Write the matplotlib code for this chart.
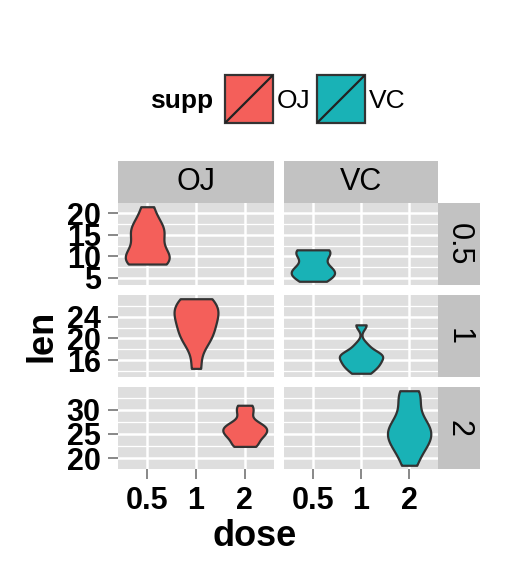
import numpy as np
import matplotlib
matplotlib.use("Agg")
import matplotlib.pyplot as plt
from matplotlib.patches import Rectangle
from matplotlib.lines import Line2D

plt.rcParams['font.family'] = ['Liberation Sans', 'DejaVu Sans']

# ToothGrowth values read for each supp / dose cell
supp_levels = ["OJ", "VC"]
dose_levels = ["0.5", "1", "2"]
len_oj_05 = [15.2, 21.5, 17.6, 9.7, 14.5, 10.0, 8.2, 9.4, 16.5, 9.7]
len_oj_1 = [19.7, 23.3, 23.6, 26.4, 20.0, 25.2, 25.8, 21.2, 14.5, 27.3]
len_oj_2 = [25.5, 26.4, 22.4, 24.5, 24.8, 30.9, 26.4, 27.3, 29.4, 23.0]
len_vc_05 = [4.2, 11.5, 7.3, 5.8, 6.4, 10.0, 11.2, 11.2, 5.2, 7.0]
len_vc_1 = [16.5, 16.5, 15.2, 17.3, 22.5, 17.3, 13.6, 14.5, 18.8, 15.5]
len_vc_2 = [23.6, 18.5, 33.9, 25.5, 26.4, 32.5, 26.7, 21.5, 23.3, 29.5]
y_ticks = [[5, 10, 15, 20], [16, 20, 24], [20, 25, 30]]
fill_colors = {"OJ": "#F45F5A", "VC": "#19B2B6"}

data = {
    ("OJ", "0.5"): len_oj_05, ("OJ", "1"): len_oj_1, ("OJ", "2"): len_oj_2,
    ("VC", "0.5"): len_vc_05, ("VC", "1"): len_vc_1, ("VC", "2"): len_vc_2,
}

W, H = 518, 576
fig = plt.figure(figsize=(W / 100, H / 100), dpi=100)


def box(x0, y0, x1, y1):
    # pixel box (top-left origin) -> figure fraction
    return [x0 / W, 1 - y1 / H, (x1 - x0) / W, (y1 - y0) / H]


col_x = [(118, 274), (284, 438)]
row_y = [(203, 285), (295, 377), (387, 469)]
panel_bg = "#DEDEDE"
strip_bg = "#C2C2C2"
tick_grey = "#7F7F7F"


def bw_nrd0(v):
    v = np.asarray(v)
    sd = v.std(ddof=1)
    iqr = np.subtract(*np.percentile(v, [75, 25]))
    lo = min(sd, iqr / 1.34)
    return 0.9 * lo * len(v) ** -0.2, sd


for r, dose in enumerate(dose_levels):
    # shared y range per row (free y scales)
    row_vals = np.concatenate([data[(s, dose)] for s in supp_levels])
    ymin, ymax = row_vals.min(), row_vals.max()
    pad = (ymax - ymin) * 0.05
    for c, supp in enumerate(supp_levels):
        ax = fig.add_axes(box(col_x[c][0], row_y[r][0], col_x[c][1], row_y[r][1]))
        ax.set_facecolor(panel_bg)
        for sp in ax.spines.values():
            sp.set_visible(False)
        ax.set_xlim(0.4, 3.6)
        ax.set_ylim(ymin - pad, ymax + pad)

        ticks = y_ticks[r]
        step = ticks[1] - ticks[0]
        minor = np.arange(ticks[0] - step / 2, ymax + pad, step)
        minor = [m for m in minor if ymin - pad < m < ymax + pad]
        for m in minor:
            ax.axhline(m, color="white", lw=0.9, zorder=0.5)
        for t in ticks:
            ax.axhline(t, color="white", lw=1.8, zorder=0.6)
        for xp in [1, 2, 3]:
            ax.axvline(xp, color="white", lw=1.8, zorder=0.6)

        vals = data[(supp, dose)]
        bw, sd = bw_nrd0(vals)
        pos = dose_levels.index(dose) + 1
        parts = ax.violinplot([vals], positions=[pos], widths=0.9,
                              bw_method=bw / sd, showextrema=False, points=200)
        for b in parts['bodies']:
            b.set_facecolor(fill_colors[supp])
            b.set_edgecolor("#333333")
            b.set_linewidth(1.6)
            b.set_alpha(1)
            b.set_zorder(2)

        ax.set_xticks([1, 2, 3])
        ax.set_yticks(ticks)
        ax.tick_params(axis='both', length=7.5, width=1.3, color=tick_grey,
                       labelsize=22, pad=5)
        if c == 0:
            ax.set_yticklabels([str(t) for t in ticks], fontweight='bold')
        else:
            ax.tick_params(axis='y', left=False, labelleft=False)
        if r == 2:
            ax.set_xticklabels(dose_levels, fontweight='bold')
        else:
            ax.tick_params(axis='x', bottom=False, labelbottom=False)

        # column strips
        if r == 0:
            sax = fig.add_axes(box(col_x[c][0], 161, col_x[c][1], 203))
            sax.set_facecolor(strip_bg)
            sax.set_xticks([])
            sax.set_yticks([])
            for sp in sax.spines.values():
                sp.set_visible(False)
            sax.text(0.5, 0.5, supp, ha='center', va='center', fontsize=22,
                     transform=sax.transAxes)
    # row strips
    rax = fig.add_axes(box(438, row_y[r][0], 480, row_y[r][1]))
    rax.set_facecolor(strip_bg)
    rax.set_xticks([])
    rax.set_yticks([])
    for sp in rax.spines.values():
        sp.set_visible(False)
    rax.text(0.5, 0.5, dose, ha='center', va='center', fontsize=22,
             rotation=-90, transform=rax.transAxes)

# axis titles
fig.text(255 / W, 1 - 536 / H, "dose", ha='center', va='center',
         fontsize=26, fontweight='bold')
fig.text(42 / W, 1 - 336 / H, "len", ha='center', va='center',
         fontsize=26, fontweight='bold', rotation=90)

# legend
fig.text(150 / W, 1 - 101 / H, "supp", ha='left', va='center',
         fontsize=19, fontweight='bold')
for i, supp in enumerate(supp_levels):
    kx0 = 225 + i * 92
    kax = fig.add_axes(box(kx0, 75, kx0 + 48, 123))
    kax.set_xlim(0, 1)
    kax.set_ylim(0, 1)
    kax.add_patch(Rectangle((0, 0), 1, 1, facecolor=fill_colors[supp],
                            edgecolor="#333333", lw=1.6, transform=kax.transAxes,
                            clip_on=False))
    kax.add_line(Line2D([0, 1], [0, 1], color="#222222", lw=1.6))
    kax.axis('off')
    fig.text((kx0 + 52) / W, 1 - 101 / H, supp, ha='left', va='center',
             fontsize=19)

fig.savefig("out.png", dpi=100)
